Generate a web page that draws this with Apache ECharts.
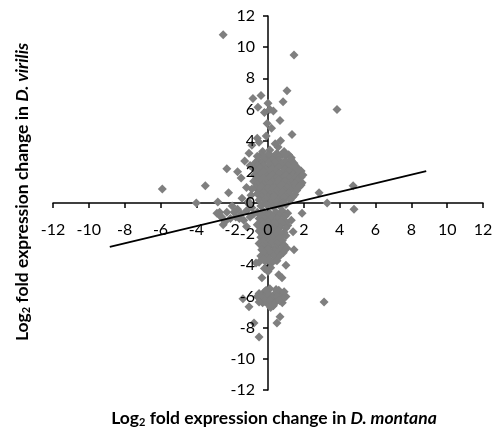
<!DOCTYPE html>
<html>
<head>
<meta charset="utf-8">
<script src="https://cdn.jsdelivr.net/npm/echarts@6/dist/echarts.min.js"></script>
<style>
  html, body { margin: 0; padding: 0; background: #fff; }
  #chart { width: 498px; height: 429px; }
</style>
</head>
<body>
<div id="chart"></div>
<script>
// axis range: min, max, interval (tick labels -12 ... 12)
const xAxisRange = [-12, 12, 2]
const yAxisRange = [-12, 12, 2]

// dense blob around the origin (upper part)
const pointsCentre = [
  [-0.3, 3.3], [0.1, 3.4], [0.5, 3.2], [0.9, 3.3],
  [-0.4, 3.1], [0.0, 3.1], [0.4, 3.05], [0.8, 3.1], [1.15, 3.1],
  [-0.6, 3.0], [-0.2, 2.9], [0.2, 3.0], [0.6, 2.95], [1.0, 3.05], [1.3, 2.9],
  [-0.55, 2.75], [-0.15, 2.75], [0.25, 2.8], [0.6, 2.75], [0.95, 2.7], [1.3, 2.75],
  [-0.7, 2.6], [-0.35, 2.55], [0.05, 2.65], [0.4, 2.6], [0.75, 2.5], [1.1, 2.6], [1.45, 2.55],
  [-0.6, 2.4], [-0.25, 2.4], [0.1, 2.45], [0.45, 2.4], [0.8, 2.35], [1.15, 2.4], [1.5, 2.4],
  [-0.8, 2.2], [-0.45, 2.25], [-0.1, 2.15], [0.25, 2.2], [0.6, 2.3], [0.95, 2.2], [1.3, 2.15], [1.65, 2.25],
  [-0.6, 2.0], [-0.25, 2.0], [0.1, 2.05], [0.45, 2.0], [0.8, 1.95], [1.15, 2.0], [1.5, 2.0], [1.85, 2.05],
  [-0.75, 1.8], [-0.4, 1.85], [-0.05, 1.75], [0.3, 1.8], [0.65, 1.9], [1.0, 1.8], [1.35, 1.75], [1.7, 1.85],
  [-0.6, 1.6], [-0.25, 1.6], [0.1, 1.65], [0.45, 1.6], [0.8, 1.55], [1.15, 1.6], [1.5, 1.6], [1.85, 1.65],
  [-0.8, 1.4], [-0.45, 1.45], [-0.1, 1.35], [0.25, 1.4], [0.6, 1.5], [0.95, 1.4], [1.3, 1.35], [1.65, 1.45], [1.9, 1.3],
  [-0.6, 1.2], [-0.25, 1.2], [0.1, 1.25], [0.45, 1.2], [0.8, 1.15], [1.15, 1.2], [1.5, 1.2], [1.85, 1.15],
  [-0.7, 1.0], [-0.35, 1.05], [0.0, 0.95], [0.35, 1.0], [0.7, 1.1], [1.05, 1.0], [1.4, 0.95], [1.75, 1.05],
  [-0.5, 0.8], [-0.15, 0.8], [0.2, 0.85], [0.55, 0.8], [0.9, 0.75], [1.25, 0.8], [1.6, 0.8],
  [-0.6, 0.6], [-0.25, 0.65], [0.1, 0.55], [0.45, 0.6], [0.8, 0.7], [1.15, 0.6], [1.5, 0.55],
  [-0.35, 0.4], [0.0, 0.4], [0.35, 0.45], [0.7, 0.4], [1.05, 0.35], [1.4, 0.4],
  [-0.5, 0.2], [-0.15, 0.25], [0.2, 0.15], [0.55, 0.2], [0.9, 0.3], [1.25, 0.2],
  [-0.2, 0.0], [0.15, 0.0], [0.5, 0.05], [0.85, 0.0],
  [-0.4, -0.2], [-0.05, -0.15], [0.3, -0.25], [0.65, -0.2], [1.0, -0.1]
]

// vertical band below the origin
const pointsLower = [
  [-0.6, -0.6], [-0.25, -0.55], [0.1, -0.65], [0.45, -0.6], [0.8, -0.5], [1.1, -0.65],
  [-0.4, -0.8], [-0.05, -0.8], [0.3, -0.85], [0.65, -0.8], [0.95, -0.85],
  [-0.5, -1.0], [-0.15, -1.05], [0.2, -0.95], [0.55, -1.0], [0.9, -1.1],
  [-0.35, -1.2], [0.0, -1.2], [0.35, -1.25], [0.7, -1.2], [1.0, -1.25],
  [-0.6, -1.4], [-0.25, -1.35], [0.1, -1.45], [0.45, -1.4], [0.8, -1.3], [1.1, -1.45],
  [-0.4, -1.6], [-0.05, -1.6], [0.3, -1.65], [0.65, -1.6], [1.0, -1.6],
  [-0.5, -1.8], [-0.15, -1.85], [0.2, -1.75], [0.55, -1.8], [0.9, -1.9],
  [-0.3, -2.0], [0.05, -2.0], [0.4, -2.05], [0.8, -2.0],
  [-0.4, -2.2], [-0.05, -2.15], [0.3, -2.25], [0.65, -2.2], [1.0, -2.1],
  [-0.25, -2.4], [0.1, -2.4], [0.45, -2.45], [0.8, -2.4],
  [-0.5, -2.6], [-0.15, -2.65], [0.2, -2.55], [0.55, -2.6], [0.9, -2.7],
  [-0.3, -2.8], [0.05, -2.8], [0.4, -2.85], [0.85, -2.8],
  [-0.35, -3.0], [0.0, -2.95], [0.35, -3.05], [0.7, -3.0], [1.05, -2.9],
  [-0.2, -3.2], [0.15, -3.2], [0.5, -3.25], [0.85, -3.2],
  [-0.4, -3.4], [-0.05, -3.45], [0.3, -3.35], [0.65, -3.4],
  [-0.3, -3.6], [0.05, -3.6], [0.4, -3.65],
  [-0.5, -3.8], [-0.15, -3.75], [0.2, -3.85], [0.5, -3.7],
  [-0.2, -4.2], [0.15, -4.15], [0.0, -4.4]
]

// band running down to the left of the origin
const pointsLeft = [
  [-0.9, -0.3], [-1.2, -0.5], [-1.5, -0.7], [-1.8, -0.9], [-2.1, -1.0], [-2.4, -1.2],
  [-1.0, -0.9], [-1.35, -1.1], [-1.7, -0.4], [-2.0, -0.2], [-2.3, -0.6], [-1.1, 0.1],
  [-1.45, 0.3], [-0.95, 0.5], [-1.2, -1.5], [-2.6, -0.9], [-2.5, -1.4], [-0.9, 0.9],
  [-1.2, 1.0], [-1.5, 1.6], [-1.0, 2.4], [-1.3, 2.7], [-0.8, -0.7], [-1.05, -0.1],
  [-1.6, -1.0], [-1.9, -0.6]
]

// cluster near y = -6
const pointsMinusSix = [
  [-0.5, -5.8], [-0.2, -5.7], [0.1, -5.9], [0.4, -5.8], [0.7, -5.9], [1.0, -6.0],
  [-0.4, -6.2], [-0.1, -6.1], [0.2, -6.3], [0.5, -6.2], [0.8, -6.4], [0.0, -6.5],
  [0.3, -6.6], [-0.3, -6.4], [0.6, -5.6], [0.1, -5.5], [-0.6, -6.0], [0.9, -5.7],
  [-0.35, -5.95], [-0.05, -5.85], [0.25, -6.05], [0.55, -6.0], [0.85, -6.15],
  [-0.2, -6.3], [0.1, -6.25], [0.4, -6.4], [0.65, -6.25], [-0.5, -6.35],
  [0.15, -6.7], [0.45, -5.55], [-0.1, -5.6]
]

// scattered points away from the clusters
const pointsOutliers = [
  [-2.5, 10.8], [1.45, 9.5], [3.85, 6.0], [1.06, 7.2], [-0.84, 6.7], [-0.56, 6.15],
  [-0.39, 6.9], [0.0, 6.4], [0.84, 6.5], [0.67, 5.3], [-0.05, 5.1], [1.34, 4.4],
  [-0.6, 4.15], [0.56, 3.6], [-1.06, 3.2], [-2.3, 2.2], [-1.7, 2.0], [-3.5, 1.1],
  [-2.2, 0.65], [4.75, 1.1], [2.85, 0.65], [1.6, 2.2], [1.95, 1.8], [-5.9, 0.9],
  [-4.0, 0.0], [-2.8, 0.06], [-2.7, -0.6], [3.3, 0.0], [4.8, -0.4], [1.9, -0.65],
  [1.4, -1.85], [1.3, -1.1], [1.45, -3.0], [1.0, -4.0], [0.6, -4.6], [0.78, -4.8],
  [-0.34, -4.8], [-0.67, -3.85], [3.13, -6.35], [-1.06, -6.65], [-1.4, -6.15],
  [0.67, -7.3], [0.5, -7.7], [-0.78, -7.7], [-0.5, -8.6], [-2.85, -0.65], [-2.6, -0.9],
  [-0.2, 5.8], [0.1, 6.0], [0.2, 4.8], [-0.1, 4.3], [-0.5, 3.9], [0.4, 3.8],
  [-0.9, 3.7], [0.7, 4.0], [0.3, 5.9]
]

// linear trend line end points
const trendLine = [[-8.83, -2.82], [8.83, 2.05]]

const allPoints = [].concat(pointsCentre, pointsLower, pointsLeft, pointsMinusSix, pointsOutliers)

const chart = echarts.init(document.getElementById('chart'))
const font = 'Lato, "Open Sans", sans-serif'
const titleRich = {
  b: { fontFamily: font, fontSize: 17.5, fontWeight: 'bold', color: '#000' },
  i: { fontFamily: font, fontSize: 17.5, fontWeight: 'bold', fontStyle: 'italic', color: '#000' },
  s: { fontFamily: font, fontSize: 11, fontWeight: 'bold', color: '#000', padding: [9, 0, 0, 0] }
}
const lineStyle = { color: '#000', width: 1.5 }
const labelStyle = { fontFamily: font, fontSize: 16, color: '#000', showMinLabel: true, showMaxLabel: true, hideOverlap: false }

// grid: 430 x 374, axes moved to its middle (where 0 sits).
// axis 0 draws line, ticks and title below the points; axis 1 only draws tick labels above them
const option = {
  animation: false,
  grid: { left: 53, right: 15, top: 16, bottom: 39, containLabel: false, outerBoundsMode: 'none' },
  xAxis: [
    {
      type: 'value',
      min: xAxisRange[0],
      max: xAxisRange[1],
      interval: xAxisRange[2],
      position: 'bottom',
      offset: -187,
      z: 0,
      name: '{b|Log}{s|2}{b| fold expression change in }{i|D. montana}',
      nameLocation: 'middle',
      nameGap: 205,
      nameTextStyle: { rich: titleRich, padding: [0, 0, 0, 12] },
      axisLine: { onZero: false, lineStyle: lineStyle },
      axisTick: { show: true, length: 5, lineStyle: lineStyle },
      axisLabel: { show: false },
      splitLine: { show: false }
    },
    {
      type: 'value',
      min: xAxisRange[0],
      max: xAxisRange[1],
      interval: xAxisRange[2],
      position: 'bottom',
      offset: -187,
      z: 6,
      axisLine: { show: false, onZero: false },
      axisTick: { show: false },
      axisLabel: Object.assign({ margin: 19 }, labelStyle),
      splitLine: { show: false }
    }
  ],
  yAxis: [
    {
      type: 'value',
      min: yAxisRange[0],
      max: yAxisRange[1],
      interval: yAxisRange[2],
      position: 'left',
      offset: -215,
      z: 0,
      name: '{b|Log}{s|2}{b| fold expression change in }{i|D. virilis}',
      nameLocation: 'middle',
      nameGap: 236,
      nameTextStyle: { rich: titleRich, padding: [0, 0, 0, 22] },
      axisLine: { onZero: false, lineStyle: lineStyle },
      axisTick: { show: true, length: 5, lineStyle: lineStyle },
      axisLabel: { show: false },
      splitLine: { show: false }
    },
    {
      type: 'value',
      min: yAxisRange[0],
      max: yAxisRange[1],
      interval: yAxisRange[2],
      position: 'left',
      offset: -215,
      z: 6,
      axisLine: { show: false, onZero: false },
      axisTick: { show: false },
      axisLabel: Object.assign({ margin: 13 }, labelStyle),
      splitLine: { show: false }
    }
  ],
  series: [
    {
      type: 'scatter',
      xAxisIndex: 0,
      yAxisIndex: 0,
      symbol: 'diamond',
      symbolSize: 9,
      itemStyle: { color: '#7f7f7f', opacity: 1 },
      data: allPoints,
      z: 3
    },
    {
      type: 'line',
      xAxisIndex: 0,
      yAxisIndex: 0,
      data: trendLine,
      showSymbol: false,
      symbol: 'none',
      lineStyle: { color: '#000', width: 1.8 },
      z: 4
    }
  ]
}
chart.setOption(option)
</script>
</body>
</html>
